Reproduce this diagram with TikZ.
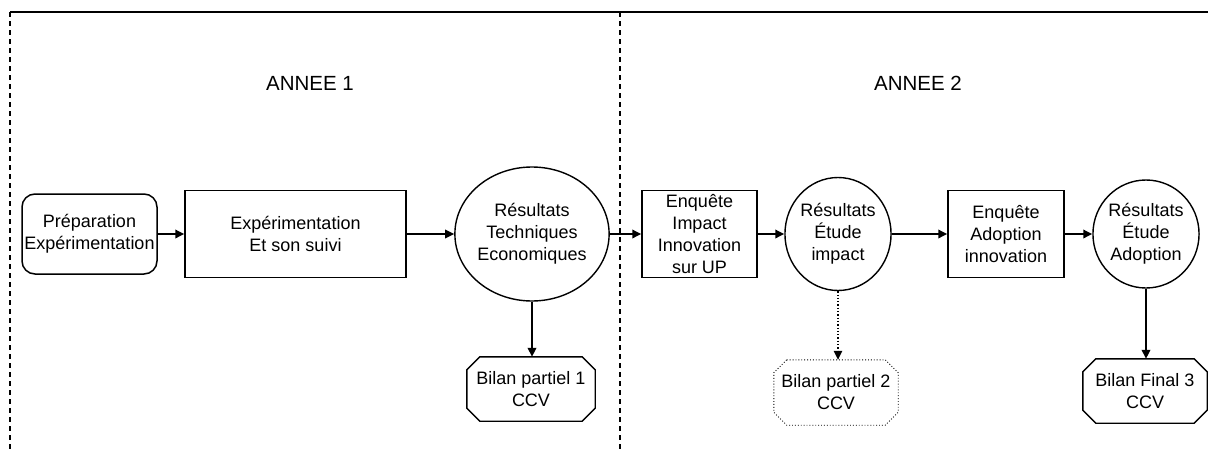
\documentclass[tikz,border=0pt]{standalone}
\usepackage{fontspec}
\setmainfont{Liberation Sans}
\usetikzlibrary{arrows.meta,shapes.geometric,calc}
\tikzset{
  txt/.style={font=\fontsize{18}{22}\selectfont, align=center, text=black},
  boxnode/.style={txt, draw=black, line width=1.5pt, inner sep=0pt},
  rnd/.style={boxnode, rounded corners=13pt},
  ovl/.style={txt, ellipse, draw=black, line width=1.4pt, inner sep=0pt},
  bil/.style={txt, inner sep=0pt},
  arr/.style={line width=1.8pt, -{Triangle[length=9pt,width=8.5pt]}},
  darr/.style={line width=1.3pt, dotted, -{Triangle[length=9pt,width=8.5pt]}},
  sep/.style={line width=1.3pt, dash pattern=on 5pt off 4pt},
  title/.style={font=\fontsize{20.5}{24}\selectfont}
}
\newcommand{\octoshape}[3]{%
  \draw[#2] ($(#1.north west)+(#3,0)$) -- ($(#1.north east)+(-#3,0)$)
    -- ($(#1.north east)+(0,-#3)$) -- ($(#1.south east)+(0,#3)$)
    -- ($(#1.south east)+(-#3,0)$) -- ($(#1.south west)+(#3,0)$)
    -- ($(#1.south west)+(0,#3)$) -- ($(#1.north west)+(0,-#3)$) -- cycle;}
\begin{document}
\begin{tikzpicture}[x=1pt,y=-1pt]
\useasboundingbox (0,0) rectangle (1208,450);
\fill[white] (0,0) rectangle (1208,450);
% frame lines
\coordinate (tl) at (10,12);
\coordinate (tr) at (1208,12);
\coordinate (bl) at (10,450);
\coordinate (mt) at (620,12);
\coordinate (mb) at (620,450);
\draw[line width=1.8pt] (tl) -- (tr);
\draw[sep] (tl) -- (bl);
\draw[sep] (mt) -- (mb);
% titles
\node[title] (a1) at (310,83) {ANNEE 1};
\node[title] (a2) at (918,83) {ANNEE 2};
% main row
\node[rnd, minimum width=135pt, minimum height=80pt] (prep) at (89.5,234) {Préparation\\Expérimentation};
\node[boxnode, minimum width=221pt, minimum height=87pt] (exp) at (295.5,234) {Expérimentation\\Et son suivi};
\node[ovl, minimum width=130pt, minimum height=134pt] (res1) at (532,234) {Résultats\\Techniques\\Economiques};
\node[boxnode, minimum width=115pt, minimum height=87pt] (enq1) at (699.5,234) {Enquête\\Impact\\Innovation\\sur UP};
\node[ovl, minimum width=104pt, minimum height=113pt] (res2) at (838,234) {Résultats\\Étude\\impact};
\node[boxnode, minimum width=116pt, minimum height=87pt] (enq2) at (1006,234) {Enquête\\Adoption\\innovation};
\node[ovl, minimum width=104pt, minimum height=108pt] (res3) at (1146,234) {Résultats\\Étude\\Adoption};
% bilans
\node[bil, minimum width=128pt, minimum height=64pt] (bil1) at (531,389) {Bilan partiel 1\\CCV};
\node[bil, minimum width=124pt, minimum height=65pt] (bil2) at (836,392.5) {Bilan partiel 2\\CCV};
\node[bil, minimum width=124pt, minimum height=64pt] (bil3) at (1145,391) {Bilan Final 3\\CCV};
\octoshape{bil1}{line width=1.4pt}{13pt}
\octoshape{bil2}{line width=0.9pt, dotted}{13pt}
\octoshape{bil3}{line width=1.4pt}{13pt}
% connectors
\draw[arr] (prep) -- (exp);
\draw[arr] (exp) -- (res1);
\draw[arr] (res1) -- (enq1);
\draw[arr] (enq1) -- (res2);
\draw[arr] (res2) -- (enq2);
\draw[arr] (enq2) -- (res3);
\draw[arr] (res1.south) -- (res1.south |- bil1.north);
\draw[darr] (res2.south) -- (res2.south |- bil2.north);
\draw[arr] (res3.south) -- (res3.south |- bil3.north);
\end{tikzpicture}
\end{document}
